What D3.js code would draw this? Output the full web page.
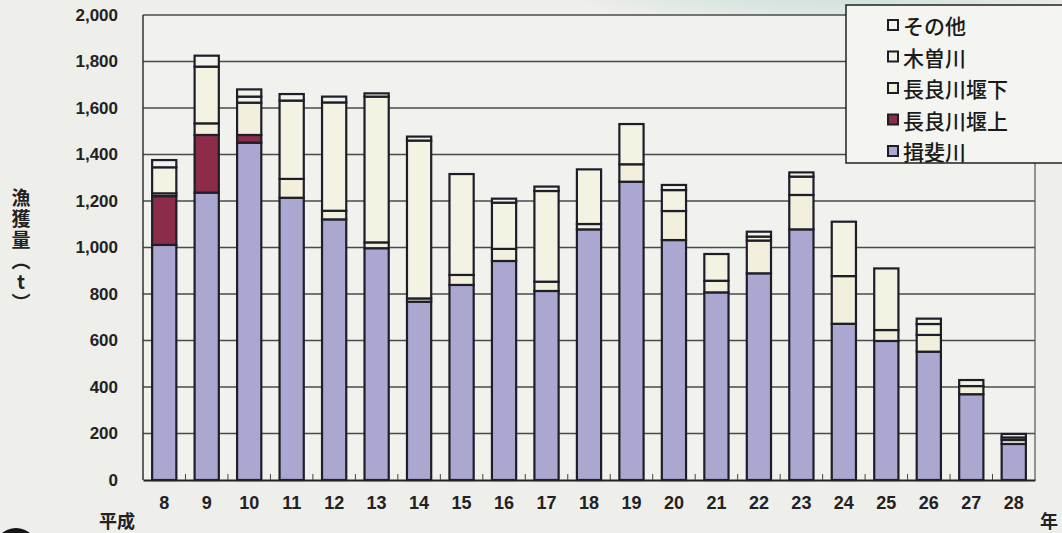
<!DOCTYPE html>
<html>
<head>
<meta charset="utf-8">
<script src="https://cdn.jsdelivr.net/npm/d3@7"></script>
<style>
  html, body { margin: 0; padding: 0; background: #eeeeeb; }
  svg { display: block; }
</style>
</head>
<body>
<svg id="chart" width="1062" height="533"></svg>
<script>
// 平成 years
const years = ["8","9","10","11","12","13","14","15","16","17","18","19","20","21","22","23","24","25","26","27","28"];

// catch (t) per river, bottom to top
const ibigawa   = [1011,1236,1451,1214,1121,997,767,839,942,813,1078,1283,1032,807,889,1078,672,598,552,369,155];
const nagaraUp  = [210,248,33,0,0,0,0,0,0,0,0,0,0,0,0,0,0,0,0,0,0];
const nagaraDn  = [12,50,139,81,37,25,14,43,52,40,23,75,125,50,141,148,205,47,72,35,17];
const kiso      = [112,244,26,337,466,627,679,434,199,390,235,173,90,115,17,79,234,265,47,26,11];
const other     = [31,47,31,28,25,14,17,0,17,19,0,0,22,0,21,18,0,0,23,0,15];

const seriesNames = ["揖斐川", "長良川堰上", "長良川堰下", "木曽川", "その他"];
const yTicks = [0,200,400,600,800,1000,1200,1400,1600,1800,2000];

const colors = {
  "揖斐川": "#aaa8d0",
  "長良川堰上": "#8c2c48",
  "長良川堰下": "#f2efdc",
  "木曽川": "#f4f2e3",
  "その他": "#f3f3ee"
};

const table = years.map((y, i) => ({
  year: y,
  "揖斐川": ibigawa[i],
  "長良川堰上": nagaraUp[i],
  "長良川堰下": nagaraDn[i],
  "木曽川": kiso[i],
  "その他": other[i]
}));

const svg = d3.select("#chart");
const margin = {left: 143, right: 27, top: 15, bottom: 53};
const W = 1062, H = 533;

// scan background tint
const defs = svg.append("defs");
const grad = defs.append("radialGradient").attr("id", "teal");
grad.append("stop").attr("offset", "0%").attr("stop-color", "#a9d3c8").attr("stop-opacity", 0.75);
grad.append("stop").attr("offset", "100%").attr("stop-color", "#a9d3c8").attr("stop-opacity", 0);
svg.append("ellipse")
  .attr("cx", 840).attr("cy", -25).attr("rx", 300).attr("ry", 55)
  .attr("fill", "url(#teal)");

const x = d3.scaleBand()
  .domain(years)
  .range([margin.left, W - margin.right])
  .paddingInner(0.43)
  .paddingOuter(0.215);

const y = d3.scaleLinear()
  .domain([0, 2000])
  .range([H - margin.bottom, margin.top]);

// plot background
svg.append("rect")
  .attr("x", margin.left).attr("y", margin.top)
  .attr("width", W - margin.left - margin.right)
  .attr("height", y(0) - margin.top)
  .attr("fill", "#f1f1ee");

// gridlines
svg.append("g")
  .selectAll("line")
  .data(yTicks.filter(d => d > 0))
  .join("line")
  .attr("x1", margin.left).attr("x2", W - margin.right)
  .attr("y1", d => y(d)).attr("y2", d => y(d))
  .attr("stroke", "#4a4a4a")
  .attr("stroke-width", 1.3);

// stacked bars
const stack = d3.stack().keys(seriesNames);
const layers = stack(table);

svg.append("g")
  .selectAll("g")
  .data(layers)
  .join("g")
  .attr("fill", d => colors[d.key])
  .selectAll("rect")
  .data(d => d.filter(s => s[1] - s[0] > 0))
  .join("rect")
  .attr("x", d => x(d.data.year))
  .attr("width", x.bandwidth())
  .attr("y", d => y(d[1]))
  .attr("height", d => y(d[0]) - y(d[1]))
  .attr("stroke", "#1e1e28")
  .attr("stroke-width", 2.2);

// axes frame
svg.append("line")
  .attr("x1", margin.left).attr("x2", margin.left)
  .attr("y1", margin.top).attr("y2", y(0))
  .attr("stroke", "#333").attr("stroke-width", 1.5);
svg.append("line")
  .attr("x1", W - margin.right).attr("x2", W - margin.right)
  .attr("y1", margin.top).attr("y2", y(0))
  .attr("stroke", "#555").attr("stroke-width", 1.2);

const xAxis = svg.append("g")
  .attr("transform", `translate(0,${y(0)})`)
  .call(d3.axisBottom(x).tickSize(0).tickPadding(16));
xAxis.select(".domain").attr("stroke", "#222").attr("stroke-width", 1.8);
xAxis.selectAll("text")
  .attr("font-family", "'Liberation Sans Narrow', 'Liberation Sans', Arial, sans-serif")
  .attr("font-size", 18)
  .attr("font-weight", "bold")
  .attr("fill", "#222");

// small inner ticks between categories
const step = x.step();
svg.append("g")
  .selectAll("line")
  .data(years.slice(1))
  .join("line")
  .attr("x1", d => x(d) - (step - x.bandwidth()) / 2)
  .attr("x2", d => x(d) - (step - x.bandwidth()) / 2)
  .attr("y1", y(0)).attr("y2", y(0) - 6)
  .attr("stroke", "#444").attr("stroke-width", 1);

const yAxis = svg.append("g")
  .attr("transform", `translate(${margin.left},0)`)
  .call(d3.axisLeft(y).tickValues(yTicks).tickSize(0).tickPadding(25).tickFormat(d3.format(",")));
yAxis.select(".domain").remove();
yAxis.selectAll("text")
  .attr("font-family", "'Liberation Sans', Arial, sans-serif")
  .attr("font-size", 17)
  .attr("font-weight", "bold")
  .attr("fill", "#222");

// y title, vertical
svg.append("text")
  .attr("x", 21).attr("y", 188)
  .style("writing-mode", "vertical-rl")
  .style("text-orientation", "upright")
  .attr("font-family", "'Noto Sans CJK JP', sans-serif")
  .attr("font-size", 19)
  .attr("letter-spacing", 2)
  .attr("font-weight", "bold")
  .attr("fill", "#222")
  .text("漁獲量（t）");

svg.append("text")
  .attr("x", 99).attr("y", 520)
  .attr("dominant-baseline", "central")
  .attr("font-family", "'Noto Sans CJK JP', sans-serif")
  .attr("font-size", 18).attr("font-weight", "bold").attr("fill", "#222")
  .text("平成");
svg.append("text")
  .attr("x", 1040).attr("y", 520)
  .attr("dominant-baseline", "central")
  .attr("font-family", "'Noto Sans CJK JP', sans-serif")
  .attr("font-size", 18).attr("font-weight", "bold").attr("fill", "#222")
  .text("年");

// legend
const legend = svg.append("g");
legend.append("rect")
  .attr("x", 846).attr("y", 5).attr("width", 240).attr("height", 158)
  .attr("fill", "#f4f4f1").attr("stroke", "#222").attr("stroke-width", 1.5);
const legendItems = seriesNames.slice().reverse();
const li = legend.selectAll("g.item")
  .data(legendItems)
  .join("g")
  .attr("class", "item")
  .attr("transform", (d, i) => `translate(888,${25 + i * 31.5})`);
li.append("rect")
  .attr("x", 0).attr("y", -5).attr("width", 10).attr("height", 10)
  .attr("fill", d => colors[d])
  .attr("stroke", "#1e1e28").attr("stroke-width", 2);
li.append("text")
  .attr("x", 15).attr("y", 0)
  .attr("dominant-baseline", "central")
  .attr("font-family", "'Noto Sans CJK JP', sans-serif")
  .attr("font-size", 21)
  .attr("font-weight", "500")
  .attr("fill", "#1a1a1a")
  .text(d => d);

// scan artefact bottom left
svg.append("circle")
  .attr("cx", 16).attr("cy", 550).attr("r", 22)
  .attr("fill", "#151515");
</script>
</body>
</html>
